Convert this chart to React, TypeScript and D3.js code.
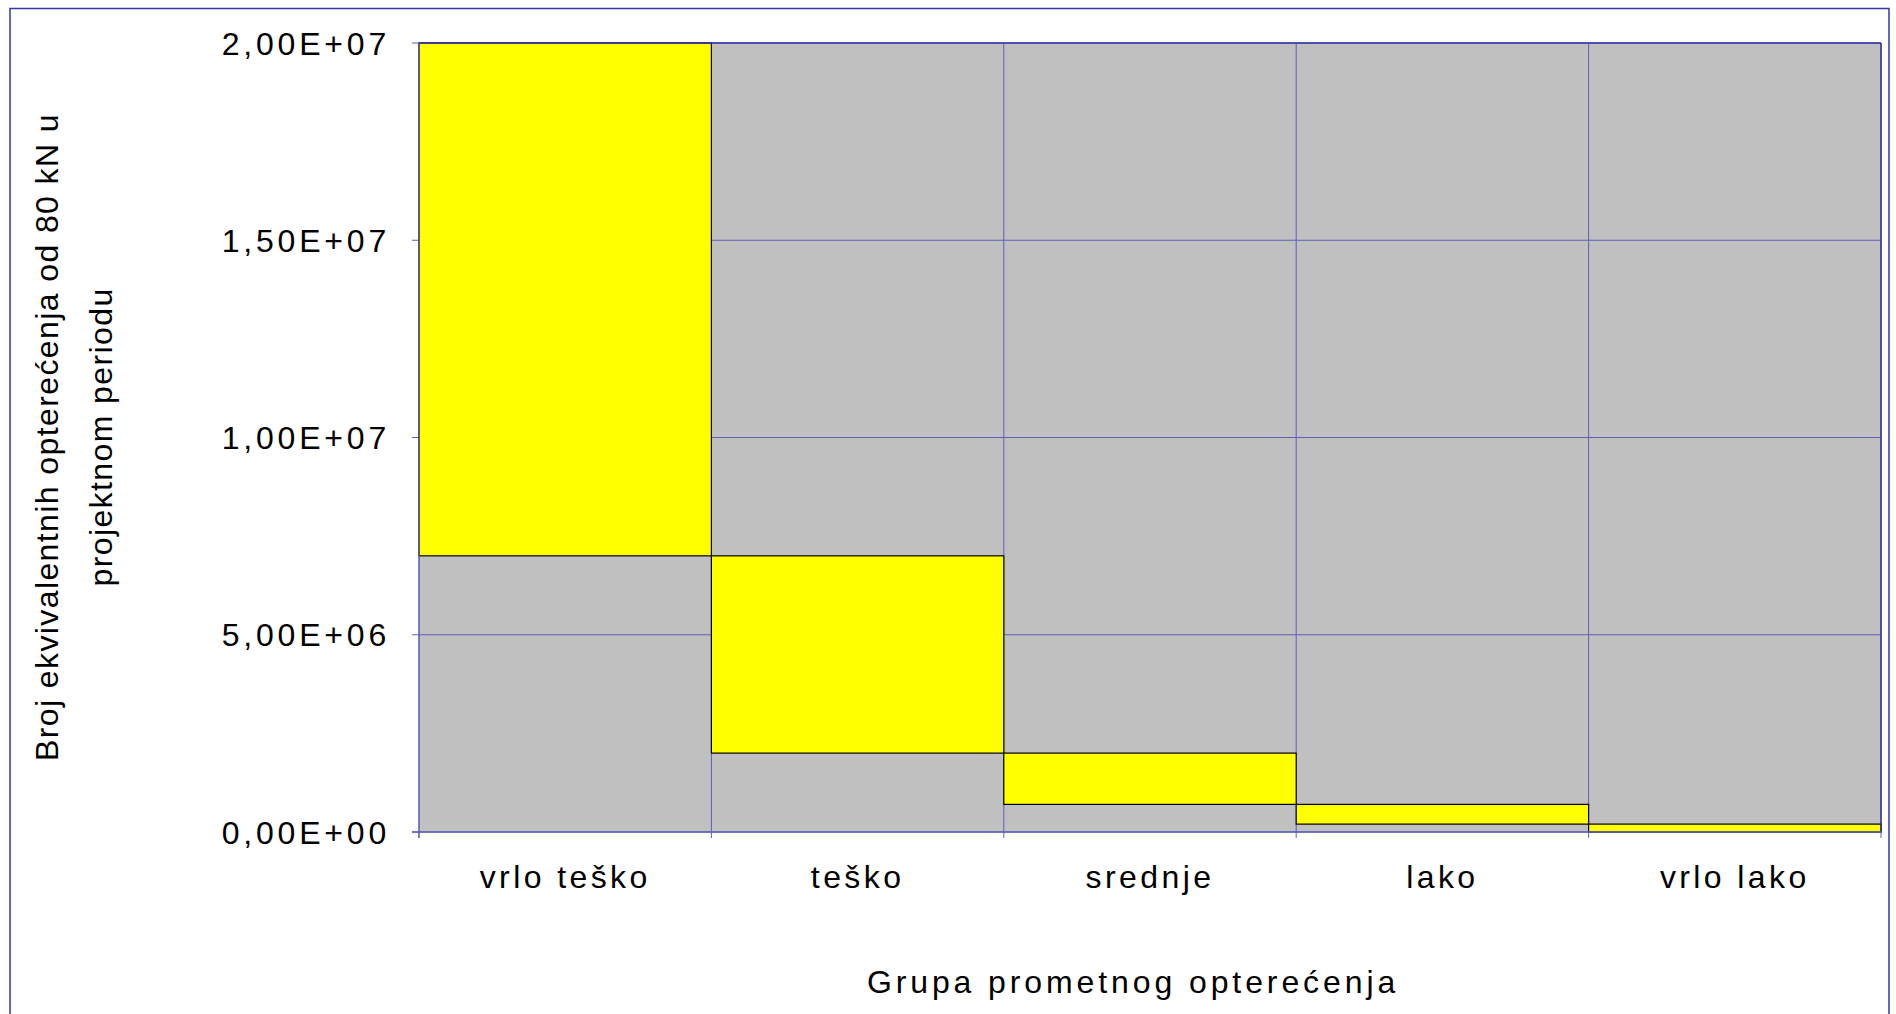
import React from "react";
import * as d3 from "d3";

const categories = ["vrlo teško", "teško", "srednje", "lako", "vrlo lako"];
const lowerValues = [7e6, 2e6, 7e5, 2e5, 0];
const upperValues = [2e7, 7e6, 2e6, 7e5, 2e5];
const yTicks = [0, 5e6, 1e7, 1.5e7, 2e7];
const yTickLabels = ["0,00E+00", "5,00E+06", "1,00E+07", "1,50E+07", "2,00E+07"];
const yTitleLines = ["Broj ekvivalentnih opterećenja od 80 kN u", "projektnom periodu"];
const xTitle = "Grupa prometnog opterećenja";

const W = 1896;
const H = 1014;
const plot = { left: 419, right: 1881, top: 43, bottom: 832 };
const FONT = "'Liberation Sans', Arial, sans-serif";
const GRID = "#5f5fb5";
const FRAME = "#3535a5";

export default function App() {
  const x = d3.scaleBand<string>().domain(categories).range([plot.left, plot.right]).padding(0);
  const y = d3.scaleLinear().domain([0, 2e7]).range([plot.bottom, plot.top]);
  const bw = x.bandwidth();
  const boundaries = categories.map((c) => x(c) as number).concat([plot.right]);

  return (
    <svg
      width={W}
      height={H}
      style={{ position: "absolute", left: 0, top: 0, background: "#fff" }}
      fontFamily={FONT}
    >
      <rect x={0} y={0} width={W} height={H} fill="#fff" />
      {/* outer frame */}
      <rect x={10} y={8.5} width={1879} height={1020} fill="#fff" stroke={FRAME} strokeWidth={1.5} />

      {/* plot background */}
      <rect
        x={plot.left}
        y={plot.top}
        width={plot.right - plot.left}
        height={plot.bottom - plot.top}
        fill="#c0c0c0"
      />

      {/* horizontal gridlines */}
      {yTicks.map((t, i) => (
        <line key={"hg" + i} x1={plot.left - 7} x2={plot.right} y1={y(t)} y2={y(t)} stroke={GRID} strokeWidth={1} />
      ))}
      {/* vertical gridlines + ticks */}
      {boundaries.map((bx, i) => (
        <line key={"vg" + i} x1={bx} x2={bx} y1={plot.top} y2={plot.bottom + 6} stroke={GRID} strokeWidth={1} />
      ))}

      {/* floating yellow bars */}
      {categories.map((c, i) => (
        <rect
          key={"bar" + i}
          x={x(c) as number}
          y={y(upperValues[i])}
          width={bw}
          height={y(lowerValues[i]) - y(upperValues[i])}
          fill="#ffff00"
          stroke="#000"
          strokeWidth={1.2}
        />
      ))}

      {/* axes & plot border */}
      <line x1={plot.left} x2={plot.right} y1={plot.top} y2={plot.top} stroke={FRAME} strokeWidth={1.5} />
      <line x1={plot.right} x2={plot.right} y1={plot.top} y2={plot.bottom} stroke={FRAME} strokeWidth={1.5} />
      <line x1={plot.left} x2={plot.left} y1={plot.top} y2={plot.bottom + 6} stroke={GRID} strokeWidth={1.2} />
      <line x1={plot.left - 7} x2={plot.right} y1={plot.bottom} y2={plot.bottom} stroke={GRID} strokeWidth={1.5} />

      {/* y tick labels */}
      {yTicks.map((t, i) => (
        <text
          key={"yl" + i}
          x={390}
          y={y(t) + 11.5}
          textAnchor="end"
          fontSize={32}
          letterSpacing={3.8}
          fill="#000"
        >
          {yTickLabels[i]}
        </text>
      ))}

      {/* x tick labels */}
      {categories.map((c, i) => (
        <text
          key={"xl" + i}
          x={(x(c) as number) + bw / 2}
          y={888}
          textAnchor="middle"
          fontSize={32}
          letterSpacing={3.4}
          fill="#000"
        >
          {c}
        </text>
      ))}

      {/* x title */}
      <text x={1133} y={993} textAnchor="middle" fontSize={32} letterSpacing={3.9} fill="#000">
        {xTitle}
      </text>

      {/* y title */}
      <g transform={`translate(58, 437) rotate(-90)`}>
        <text x={0} y={0} textAnchor="middle" fontSize={32} letterSpacing={1.4} fill="#000">
          {yTitleLines[0]}
        </text>
        <text x={0} y={54} textAnchor="middle" fontSize={32} letterSpacing={1.4} fill="#000">
          {yTitleLines[1]}
        </text>
      </g>
    </svg>
  );
}
